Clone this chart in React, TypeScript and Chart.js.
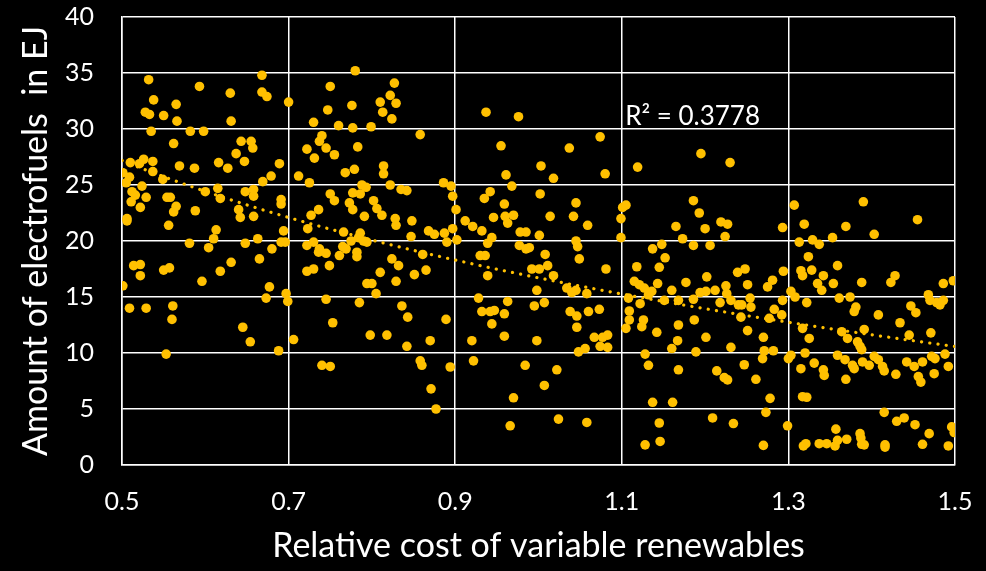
import { useEffect, useRef } from "react";
import { Chart, registerables } from "chart.js";

Chart.register(...registerables);

// Scatter observations [relative cost, electrofuels in EJ], split by cost band
const costBand05to074: [number, number][] = [
  [0.532,34.4],[0.593,33.8],[0.630,33.2],[0.668,34.8],[0.668,33.3],[0.674,32.9],[0.700,32.4],[0.538,32.6],[0.565,32.2],[0.528,31.5],
  [0.533,31.3],[0.550,31.2],[0.566,30.7],[0.631,30.7],[0.730,30.6],[0.535,29.8],[0.582,29.8],[0.598,29.8],[0.562,28.7],[0.643,28.9],
  [0.655,28.9],[0.657,28.3],[0.722,28.2],[0.731,27.4],[0.637,27.8],[0.647,27.1],[0.510,27.0],[0.521,26.9],[0.526,27.3],[0.537,27.1],
  [0.569,26.7],[0.587,26.5],[0.616,27.0],[0.627,26.5],[0.689,26.9],[0.501,26.1],[0.509,25.7],[0.505,25.2],[0.537,26.2],[0.549,25.5],
  [0.524,24.9],[0.679,25.8],[0.669,25.3],[0.712,25.8],[0.725,25.2],[0.512,24.4],[0.516,24.1],[0.511,23.5],[0.529,23.9],[0.522,23.0],
  [0.554,23.9],[0.558,23.9],[0.565,23.1],[0.562,22.6],[0.588,22.7],[0.600,24.4],[0.615,24.7],[0.618,23.8],[0.648,24.4],[0.658,24.6],
  [0.658,24.0],[0.640,22.8],[0.642,22.1],[0.658,22.2],[0.691,23.7],[0.691,23.3],[0.727,22.3],[0.723,21.1],[0.736,22.8],[0.506,22.0],
  [0.506,21.8],[0.556,21.4],[0.613,21.0],[0.610,20.2],[0.663,20.2],[0.694,20.9],[0.691,19.9],[0.696,19.9],[0.581,19.8],[0.604,19.4],
  [0.648,19.8],[0.680,19.3],[0.722,19.6],[0.730,19.9],
  [0.736,19.0],[0.514,17.8],[0.522,17.9],[0.522,16.9],[0.550,17.4],[0.557,17.6],[0.631,18.1],[0.618,17.3],[0.665,18.4],[0.596,16.4],
  [0.722,17.3],[0.730,17.5],[0.501,16.0],[0.677,15.9],[0.673,14.9],[0.697,15.3],[0.699,14.6],[0.509,14.0],[0.529,14.0],[0.561,14.2],
  [0.560,13.0],[0.645,12.3],[0.654,11.0],[0.706,11.2],[0.688,10.2],[0.553,9.9],
];

const costBand074to098: [number, number][] = [
  [0.780,35.2],[0.750,33.8],[0.827,34.1],[0.822,33.0],[0.810,32.4],[0.829,32.3],[0.813,31.5],[0.824,30.9],[0.776,32.1],[0.747,31.7],
  [0.760,30.3],[0.777,30.1],[0.799,30.2],[0.858,29.5],[0.937,31.5],[0.976,31.1],[0.740,29.4],[0.737,28.9],[0.745,28.3],[0.783,28.4],
  [0.755,27.7],[0.955,28.5],[0.768,26.1],[0.779,26.4],[0.814,26.7],[0.814,26.0],[0.961,25.9],[0.788,25.0],[0.793,24.8],[0.786,24.2],
  [0.777,24.3],[0.822,25.0],[0.835,24.6],[0.842,24.5],[0.886,25.2],[0.895,24.9],[0.897,24.0],[0.901,22.8],[0.942,24.4],[0.935,23.8],
  [0.968,24.9],[0.959,23.3],[0.960,22.2],[0.970,22.3],[0.963,21.6],[0.946,22.1],[0.750,24.2],[0.755,23.6],[0.773,23.4],[0.777,22.8],
  [0.802,23.6],[0.806,22.9],[0.812,22.3],[0.791,22.2],[0.828,22.0],[0.829,21.4],[0.848,21.8],[0.912,21.8],[0.921,21.3],[0.932,20.9],
  [0.897,21.1],[0.944,20.3],[0.939,19.8],[0.978,20.8],[0.985,20.8],[0.977,19.6],[0.766,20.8],[0.786,20.7],[0.784,20.3],[0.775,20.0],
  [0.790,20.0],[0.794,19.9],[0.765,19.5],[0.769,19.3],[0.847,20.4],[0.868,20.9],[0.875,20.6],[0.887,20.7],[0.890,19.9],[0.902,20.1],
  [0.737,19.3],
  [0.985,19.3],[0.745,18.9],[0.761,18.7],[0.782,19.0],[0.782,18.6],[0.861,18.8],[0.930,18.7],[0.936,18.7],[0.824,18.4],[0.832,17.8],
  [0.749,17.8],[0.810,17.2],[0.851,17.0],[0.865,17.4],[0.829,16.4],[0.794,16.2],[0.800,16.2],[0.805,15.3],[0.939,16.9],[0.745,14.8],
  [0.785,14.5],[0.836,14.2],[0.843,13.2],[0.889,13.0],[0.928,14.9],[0.963,14.6],[0.932,13.7],[0.942,13.7],[0.947,13.8],[0.959,13.5],
  [0.944,12.6],[0.959,11.5],[0.920,11.1],[0.753,12.7],[0.798,11.6],[0.818,11.6],[0.870,11.1],[0.842,10.6],[0.740,8.9],[0.750,8.8],
  [0.858,9.3],[0.860,8.9],[0.894,8.75],[0.922,9.3],[0.984,8.9],[0.871,6.8],[0.970,6.0],[0.877,5.0],[0.966,3.5],
];

const costBand098to124: [number, number][] = [
  [1.074,29.3],[1.037,28.3],[1.003,26.7],[1.018,25.6],[1.080,26.0],[1.119,26.6],[1.195,27.8],[1.230,27.0],[1.002,24.2],[1.045,23.4],
  [1.014,22.2],[1.042,22.2],[1.059,21.4],[1.101,23.0],[1.105,23.2],[1.099,22.0],[1.099,20.3],[1.001,20.5],[1.045,20.0],[1.047,19.5],
  [0.989,19.4],[1.165,21.3],[1.186,23.6],[1.193,22.5],[1.200,21.1],[1.173,20.2],[1.148,19.7],[1.137,19.3],[1.186,19.6],[1.206,19.6],
  [1.219,21.7],[1.227,21.5],[1.224,20.4],
  [1.008,18.8],[1.049,18.4],[1.081,17.5],[0.992,17.5],[1.001,17.5],[1.011,17.8],[1.018,16.9],[0.998,15.6],[1.034,15.8],[1.040,15.4],
  [1.045,15.6],[1.058,15.3],[0.995,14.2],[1.007,14.5],[1.038,13.7],[1.046,13.3],[1.060,13.7],[1.073,13.9],[1.046,12.3],[0.998,11.1],
  [1.067,11.4],[1.077,11.4],[1.083,11.6],[1.048,10.1],[1.056,10.4],[1.074,10.6],[1.083,10.5],[1.022,8.5],[1.007,7.1],[1.024,4.1],
  [1.058,3.8],[1.108,14.9],[1.109,13.75],[1.109,12.95],[1.105,12.2],[1.118,17.7],[1.115,16.4],[1.121,16.1],[1.127,15.8],[1.136,15.5],
  [1.132,15.2],[1.122,14.4],[1.126,12.95],[1.124,12.35],[1.152,18.5],[1.145,17.65],[1.143,16.2],[1.160,15.6],[1.151,14.7],[1.168,14.7],
  [1.142,11.85],[1.168,12.5],[1.167,11.1],[1.160,10.4],[1.128,9.9],[1.132,8.9],[1.168,8.5],[1.137,5.6],[1.161,5.6],[1.145,3.75],
  [1.128,1.8],[1.146,2.1],[1.177,16.3],[1.187,12.95],[1.186,14.8],[1.194,15.4],[1.201,15.5],[1.212,15.6],[1.202,16.8],[1.225,16.0],
  [1.226,15.3],[1.218,14.5],[1.231,14.7],[1.239,17.2],[1.240,14.3],[1.201,11.4],[1.231,10.5],[1.189,10.1],[1.214,8.4],[1.223,7.8],
  [1.227,7.6],[1.209,4.2],[1.234,3.7],
];

const costBand124to150: [number, number][] = [
  [1.307,23.2],[1.390,23.5],[1.455,21.9],[1.293,21.2],[1.319,21.5],[1.369,21.3],[1.403,20.6],[1.313,19.9],[1.329,20.1],[1.337,19.7],
  [1.353,20.3],
  [1.324,18.6],[1.359,17.8],[1.248,17.5],[1.294,17.3],[1.315,17.35],[1.317,16.9],[1.328,17.4],[1.342,16.9],[1.251,16.1],[1.281,16.5],
  [1.275,15.9],[1.335,16.2],[1.340,15.6],[1.354,16.2],[1.388,16.3],[1.423,16.3],[1.428,16.9],[1.486,16.2],[1.498,16.45],[1.254,14.9],
  [1.244,14.3],[1.255,14.1],[1.293,14.7],[1.303,15.5],[1.308,15.0],[1.322,14.5],[1.361,14.9],[1.374,15.0],[1.381,14.1],[1.379,13.7],
  [1.408,13.4],[1.447,14.2],[1.453,13.6],[1.468,15.2],[1.470,14.7],[1.478,14.5],[1.482,14.3],[1.486,14.7],[1.243,13.2],[1.283,13.9],
  [1.292,13.4],[1.277,13.1],[1.251,12.0],[1.270,11.4],[1.317,12.2],[1.325,11.3],[1.364,11.9],[1.371,11.3],[1.391,12.1],[1.383,11.0],
  [1.386,10.6],[1.388,10.3],[1.434,12.7],[1.445,11.6],[1.471,11.8],[1.271,10.2],[1.282,10.2],[1.269,9.5],[1.300,9.5],[1.303,9.8],
  [1.320,10.0],[1.331,9.1],[1.359,9.8],[1.368,9.4],[1.377,8.9],[1.379,8.6],[1.389,9.2],[1.397,8.9],[1.403,9.7],[1.408,9.4],
  [1.413,8.8],[1.415,8.4],[1.429,8.1],[1.442,9.2],[1.451,8.8],[1.461,9.2],[1.472,9.7],[1.476,9.5],[1.488,9.9],[1.492,8.8],
  [1.456,7.9],[1.459,7.4],[1.475,8.15],[1.247,8.95],[1.261,7.65],[1.315,8.6],[1.342,8.5],[1.343,8.0],[1.369,7.65],[1.278,5.95],
  [1.317,6.1],[1.322,6.05],[1.273,4.7],[1.299,3.5],[1.415,4.7],[1.430,3.9],[1.439,4.2],[1.452,3.6],[1.469,2.8],[1.496,3.4],
  [1.499,2.9],[1.270,1.75],[1.318,1.7],[1.321,1.9],[1.337,1.9],[1.346,1.9],[1.357,3.2],[1.356,1.7],[1.359,2.2],[1.370,2.3],
  [1.386,2.8],[1.387,2.4],[1.388,1.85],[1.391,1.8],[1.416,1.8],[1.416,1.6],[1.461,1.85],[1.492,1.7],
];

const xTickValues = [0.5, 0.7, 0.9, 1.1, 1.3, 1.5];
const yTickValues = [0, 5, 10, 15, 20, 25, 30, 35, 40];
const rSquaredText = "R\u00B2 = 0.3778";
const xTitle = "Relative cost of variable renewables";
const yTitle = "Amount of electrofuels  in EJ";

const YELLOW = "#FFC000";
const FONT = "Lato";

export default function App() {
  const canvasRef = useRef<HTMLCanvasElement>(null);

  useEffect(() => {
    document.body.style.margin = "0";
    document.body.style.background = "#000";
    let chart: Chart | null = null;
    let cancelled = false;

    const build = () => {
      if (cancelled || !canvasRef.current) return;
      const all = [...costBand05to074, ...costBand074to098, ...costBand098to124, ...costBand124to150];

      // Logarithmic least-squares trendline fitted to the observations
      let sx = 0, sy = 0, sxx = 0, sxy = 0;
      for (const [x, y] of all) {
        const lx = Math.log(x);
        sx += lx; sy += y; sxx += lx * lx; sxy += lx * y;
      }
      const n = all.length;
      const slope = (n * sxy - sx * sy) / (n * sxx - sx * sx);
      const intercept = (sy - slope * sx) / n;
      const trend: { x: number; y: number }[] = [];
      for (let i = 0; i <= 100; i++) {
        const x = 0.5 + i / 100;
        trend.push({ x, y: slope * Math.log(x) + intercept });
      }

      const bgPlugin = {
        id: "bg",
        beforeDraw(c: Chart) {
          const ctx = c.ctx;
          ctx.save();
          ctx.fillStyle = "#000";
          ctx.fillRect(0, 0, c.width, c.height);
          ctx.restore();
        },
      };
      const r2Plugin = {
        id: "r2",
        afterDatasetsDraw(c: Chart) {
          const ctx = c.ctx;
          const xs = c.scales.x, ys = c.scales.y;
          ctx.save();
          ctx.font = `26px ${FONT}`;
          ctx.fillStyle = "#FFFFFF";
          ctx.textAlign = "left";
          ctx.textBaseline = "alphabetic";
          ctx.fillText(rSquaredText, xs.getPixelForValue(1.104), ys.getPixelForValue(30.4));
          ctx.restore();
        },
      };

      const zeroPadding = (s: any) => {
        s.paddingTop = 0;
        s.paddingBottom = 0;
        s.paddingLeft = 0;
        s.paddingRight = 0;
      };

      chart = new Chart(canvasRef.current, {
        type: "scatter",
        data: {
          datasets: [
            {
              type: "scatter",
              data: all.map(([x, y]) => ({ x, y })),
              backgroundColor: YELLOW,
              borderWidth: 0,
              pointRadius: 4.8,
              pointHoverRadius: 4.8,
              order: 2,
            },
            {
              type: "line",
              data: trend,
              borderColor: YELLOW,
              borderWidth: 3.2,
              borderDash: [0.1, 8.2],
              borderCapStyle: "round",
              pointRadius: 0,
              showLine: true,
              fill: false,
              tension: 0,
              order: 1,
            } as any,
          ],
        },
        options: {
          responsive: false,
          animation: false,
          events: [],
          layout: { padding: { top: 17, right: 31, left: 0, bottom: 0 } },
          plugins: { legend: { display: false }, tooltip: { enabled: false } },
          scales: {
            x: {
              type: "linear",
              min: 0.5,
              max: 1.5,
              afterBuildTicks: (s: any) => {
                s.ticks = xTickValues.map((v) => ({ value: v }));
              },
              afterFit: (s: any) => {
                s.height = 106;
                zeroPadding(s);
              },
              ticks: {
                color: "#FFFFFF",
                font: { family: FONT, size: 25 },
                padding: 22,
                maxRotation: 0,
                autoSkip: false,
                callback: (v: any) => Number(v).toFixed(1),
              },
              grid: { color: "#FFFFFF", lineWidth: 1.5, drawTicks: false },
              border: { color: "#FFFFFF", width: 1.5 },
              title: {
                display: true,
                text: xTitle,
                color: "#FFFFFF",
                font: { family: FONT, size: 34 },
                padding: { top: 0, bottom: 5 },
              },
            },
            y: {
              type: "linear",
              min: 0,
              max: 40,
              afterBuildTicks: (s: any) => {
                s.ticks = yTickValues.map((v) => ({ value: v }));
              },
              afterFit: (s: any) => {
                s.width = 122;
                zeroPadding(s);
              },
              ticks: {
                color: "#FFFFFF",
                font: { family: FONT, size: 25 },
                padding: 28,
                autoSkip: false,
                callback: (v: any) => String(v),
              },
              grid: { color: "#FFFFFF", lineWidth: 1.5, drawTicks: false },
              border: { color: "#FFFFFF", width: 1.5 },
              title: {
                display: true,
                text: yTitle,
                color: "#FFFFFF",
                font: { family: FONT, size: 34 },
                padding: { top: 15.6, bottom: 0 },
              },
            },
          },
        },
        plugins: [bgPlugin, r2Plugin],
      });
    };

    if ((document as any).fonts && (document as any).fonts.load) {
      Promise.all([
        (document as any).fonts.load(`25px ${FONT}`),
        (document as any).fonts.load(`34px ${FONT}`),
      ]).then(build, build);
    } else {
      build();
    }

    return () => {
      cancelled = true;
      if (chart) chart.destroy();
    };
  }, []);

  return (
    <div style={{ width: 986, height: 571, background: "#000" }}>
      <canvas ref={canvasRef} width={986} height={571} style={{ display: "block", width: 986, height: 571 }} />
    </div>
  );
}
